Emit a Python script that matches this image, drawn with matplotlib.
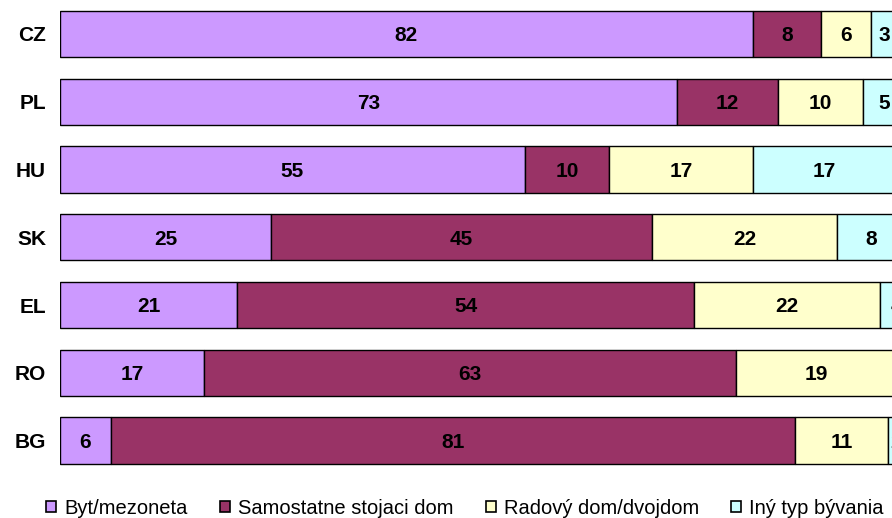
import numpy as np
import matplotlib.pyplot as plt
from matplotlib.patches import Patch

plt.rcParams['font.family'] = ['Liberation Sans', 'DejaVu Sans']

# Countries top to bottom
countries = ['CZ', 'PL', 'HU', 'SK', 'EL', 'RO', 'BG']

# Share of dwelling types (%)
byt = [82, 73, 55, 25, 21, 17, 6]
samostatne = [8, 12, 10, 45, 54, 63, 81]
radovy = [6, 10, 17, 22, 22, 19, 11]
iny = [3, 5, 17, 8, 4, 2, 2]

series_names = ['Byt/mezoneta', 'Samostatne stojaci dom', 'Radový dom/dvojdom', 'Iný typ bývania']
colors = ['#CC99FF', '#993366', '#FFFFCC', '#CCFFFF']

fig = plt.figure(figsize=(8.92, 5.18), dpi=100)
# axes runs past the right edge of the figure, like the cropped original
ax = fig.add_axes([60 / 892, 43.6 / 518, 845 / 892, 474.3 / 518])

fs = 15
cap = fs * 100 / 72 * 0.716 / 67.75  # cap height in row units

y = np.arange(len(countries))
left = np.zeros(len(countries))
for name, vals, col in zip(series_names, [byt, samostatne, radovy, iny], colors):
    vals = np.array(vals, dtype=float)
    ax.barh(y, vals, left=left, height=0.68, color=col, edgecolor='black', linewidth=1.0, label=name)
    for yi, l, v in zip(y, left, vals):
        ax.text(l + v / 2, yi + cap / 2, f'{int(v)}', ha='center', va='baseline',
                fontsize=fs, fontweight='bold', color='black')
    left += vals

ax.set_xlim(0, 100)
ax.set_ylim(len(countries) - 0.5, -0.5)
ax.set_yticks(y)
ax.set_yticklabels(countries, fontsize=fs, fontweight='bold')
ax.tick_params(axis='y', length=0, pad=10)
ax.set_xticks([])
for s in ax.spines.values():
    s.set_visible(False)

handles = [Patch(facecolor=c, edgecolor='black', linewidth=1.2) for c in colors]
fig.legend(handles, series_names, loc='center left', bbox_to_anchor=(46 / 892, 10 / 518),
           ncol=4, frameon=False, fontsize=14.5, handlelength=0.5, handleheight=0.5,
           handletextpad=0.4, columnspacing=1.6, borderpad=0, borderaxespad=0)

fig.savefig('out.png', dpi=100)
